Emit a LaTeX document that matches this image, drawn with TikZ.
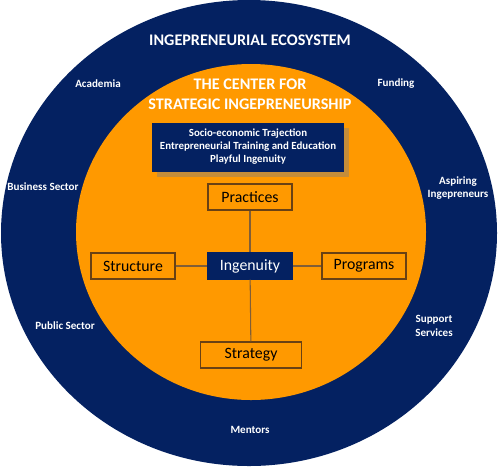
\documentclass[tikz,border=0pt]{standalone}
\usepackage{fontspec}
\setmainfont{Carlito}
\usepackage{tikz}
\usetikzlibrary{shadows}
\definecolor{ecoblue}{RGB}{4,33,97}
\definecolor{centerorange}{RGB}{255,153,0}
\definecolor{boxbrown}{RGB}{105,65,20}

\begin{document}
\begin{tikzpicture}[x=0.02cm,y=-0.02cm,
    eco/.style={text=white,font=\bfseries\fontsize{6.3}{7.6}\selectfont,align=center},
    title/.style={text=white,font=\bfseries\fontsize{9.2}{11.2}\selectfont,align=center},
    part/.style={draw=boxbrown,fill=centerorange,line width=0.6pt,minimum width=1.68cm,minimum height=0.52cm,inner sep=1pt,font=\fontsize{9}{10}\selectfont},
    link/.style={draw=boxbrown!85,line width=0.6pt}]
    \useasboundingbox (0,0) rectangle (500,467);

    \fill[ecoblue] (249,233) ellipse [x radius=248, y radius=233];
    \fill[centerorange] (251,232) ellipse [x radius=175, y radius=168];

    \node[title] (eco) at (250,40) {INGEPRENEURIAL ECOSYSTEM};
    \foreach \nm/\x/\y/\txt in {acad/98/84/Academia, fund/396/84/Funding,
        bus/43/187/Business Sector, asp/458/188/{Aspiring\\Ingepreneurs},
        pub/65/326/Public Sector, sup/434/326/{Support\\Services},
        ment/250/430/Mentors}
        \node[eco] (\nm) at (\x,\y) {\txt};

    \node[title] (center) at (250,94) {THE CENTER FOR\\STRATEGIC INGEPRENEURSHIP};
    \node[fill=ecoblue,text=white,drop shadow={opacity=0.45,shadow xshift=3pt,shadow yshift=-3pt},
        minimum width=3.84cm,minimum height=0.98cm,align=center,
        font=\bfseries\fontsize{6.2}{7.4}\selectfont] (core) at (248,147)
        {Socio-economic Trajection\\Entrepreneurial Training and Education\\Playful Ingenuity};

    \node[part] (pract) at (250,197) {Practices};
    \node[part,fill=ecoblue,text=white,draw=ecoblue] (ingen) at (250,266) {Ingenuity};
    \node[part] (struc) at (133,266) {Structure};
    \node[part] (prog) at (364,266) {Programs};
    \node[part,minimum width=2.02cm] (strat) at (251,355) {Strategy};

    \draw[link] (pract) -- (ingen);
    \draw[link] (ingen) -- (strat);
    \draw[link] (struc) -- (ingen);
    \draw[link] (ingen) -- (prog);
\end{tikzpicture}
\end{document}
